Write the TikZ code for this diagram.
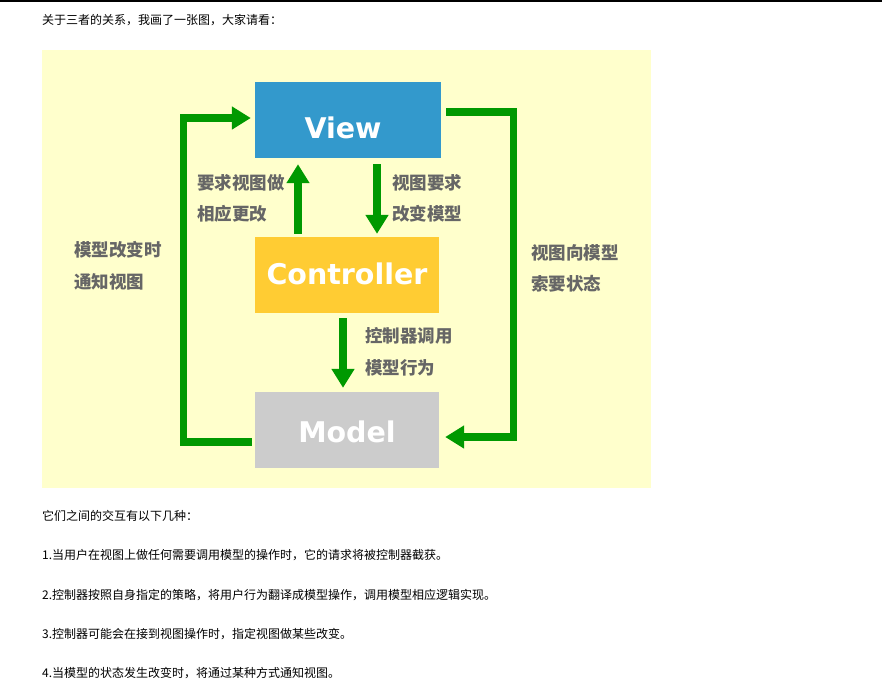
\documentclass[tikz,border=0pt]{standalone}
\usepackage{fontspec}
\usetikzlibrary{arrows.meta}
\newfontfamily\cjk{Noto Sans CJK SC}
\newfontfamily\boxfam{DejaVu Sans}
\definecolor{panel}{HTML}{FFFFCC}
\definecolor{viewc}{HTML}{3399CC}
\definecolor{ctrlc}{HTML}{FFCC33}
\definecolor{modelc}{HTML}{CCCCCC}
\definecolor{gr}{HTML}{009900}
\definecolor{lab}{HTML}{666666}
\tikzset{
  box/.style={draw=none, minimum width=184pt, minimum height=76pt, inner sep=0pt},
  boxtxt/.style={text=white, font=\boxfam\bfseries\fontsize{28.5}{30}\selectfont, inner sep=0pt},
  garrow/.style={draw=gr, line width=7.5pt, line join=miter,
    -{Triangle[width=22pt,length=19pt]}},
  gline/.style={draw=gr, line width=7.5pt, line join=miter},
  lbl/.style={anchor=base west, inner sep=0pt, text=lab,
    font=\cjk\bfseries\fontsize{17.5}{20}\selectfont},
  para/.style={anchor=base west, inner sep=0pt, text=black,
    font=\cjk\fontsize{12}{14}\selectfont}
}
\begin{document}
\begin{tikzpicture}[x=1pt,y=-1pt]
\useasboundingbox (0,0) rectangle (890,697);
\fill[white] (0,0) rectangle (890,697);
\fill[black] (0,0) rectangle (882,1.5);
\fill[panel] (42,50) rectangle (651,488);

\node[para] (intro) at (42,24) {关于三者的关系，我画了一张图，大家请看：};

\node[box, fill=viewc, minimum width=186pt] (view) at (348,120) {};
\node[boxtxt] (viewlbl) at (343,128) {View};
\node[box, fill=ctrlc] (ctrl) at (347,275) {};
\node[boxtxt] (ctrllbl) at (347,274) {Controller};
\node[box, fill=modelc] (model) at (347,430) {};
\node[boxtxt] (modellbl) at (347,432) {Model};

% left loop: model -> view
\coordinate (lb) at (183.5,442);
\coordinate (lt) at (183.5,118);
\draw[garrow] ([xshift=-3pt]model.west |- lb) -- (lb) -- (lt) -- ([xshift=-4pt]view.west |- lt);

% right loop: view -> model
\coordinate (rt) at (513.5,112);
\coordinate (rb) at (513.5,437);
\draw[garrow] ([xshift=5pt]view.east |- rt) -- (rt) -- (rb) -- ([xshift=6pt]model.east |- rb);

% middle arrows
\draw[garrow] ([xshift=29pt,yshift=-6pt]view.south) -- ([xshift=30pt,yshift=3pt]ctrl.north);
\draw[garrow] ([xshift=-49pt,yshift=3pt]ctrl.north) -- ([xshift=-50pt,yshift=-6pt]view.south);
\draw[garrow] ([xshift=-4pt,yshift=-5pt]ctrl.south) -- ([xshift=-4pt,yshift=4pt]model.north);

% labels
\node[lbl] (l1a) at (197,189.5) {要求视图做};
\node[lbl] (l1b) at (197,220.5) {相应更改};
\node[lbl] (l2a) at (392,189.5) {视图要求};
\node[lbl] (l2b) at (392,220.5) {改变模型};
\node[lbl] (l3a) at (74,256.5) {模型改变时};
\node[lbl] (l3b) at (74,288) {通知视图};
\node[lbl] (l4a) at (531,259) {视图向模型};
\node[lbl] (l4b) at (531,290) {索要状态};
\node[lbl] (l5a) at (365,342) {控制器调用};
\node[lbl] (l5b) at (365,374.5) {模型行为};

% text below
\node[para] (t0) at (42,520.5) {它们之间的交互有以下几种：};
\node[para] (t1) at (42,559.5) {1.当用户在视图上做任何需要调用模型的操作时，它的请求将被控制器截获。};
\node[para] (t2) at (42,599) {2.控制器按照自身指定的策略，将用户行为翻译成模型操作，调用模型相应逻辑实现。};
\node[para] (t3) at (42,638) {3.控制器可能会在接到视图操作时，指定视图做某些改变。};
\node[para] (t4) at (42,677) {4.当模型的状态发生改变时，将通过某种方式通知视图。};
\end{tikzpicture}
\end{document}
